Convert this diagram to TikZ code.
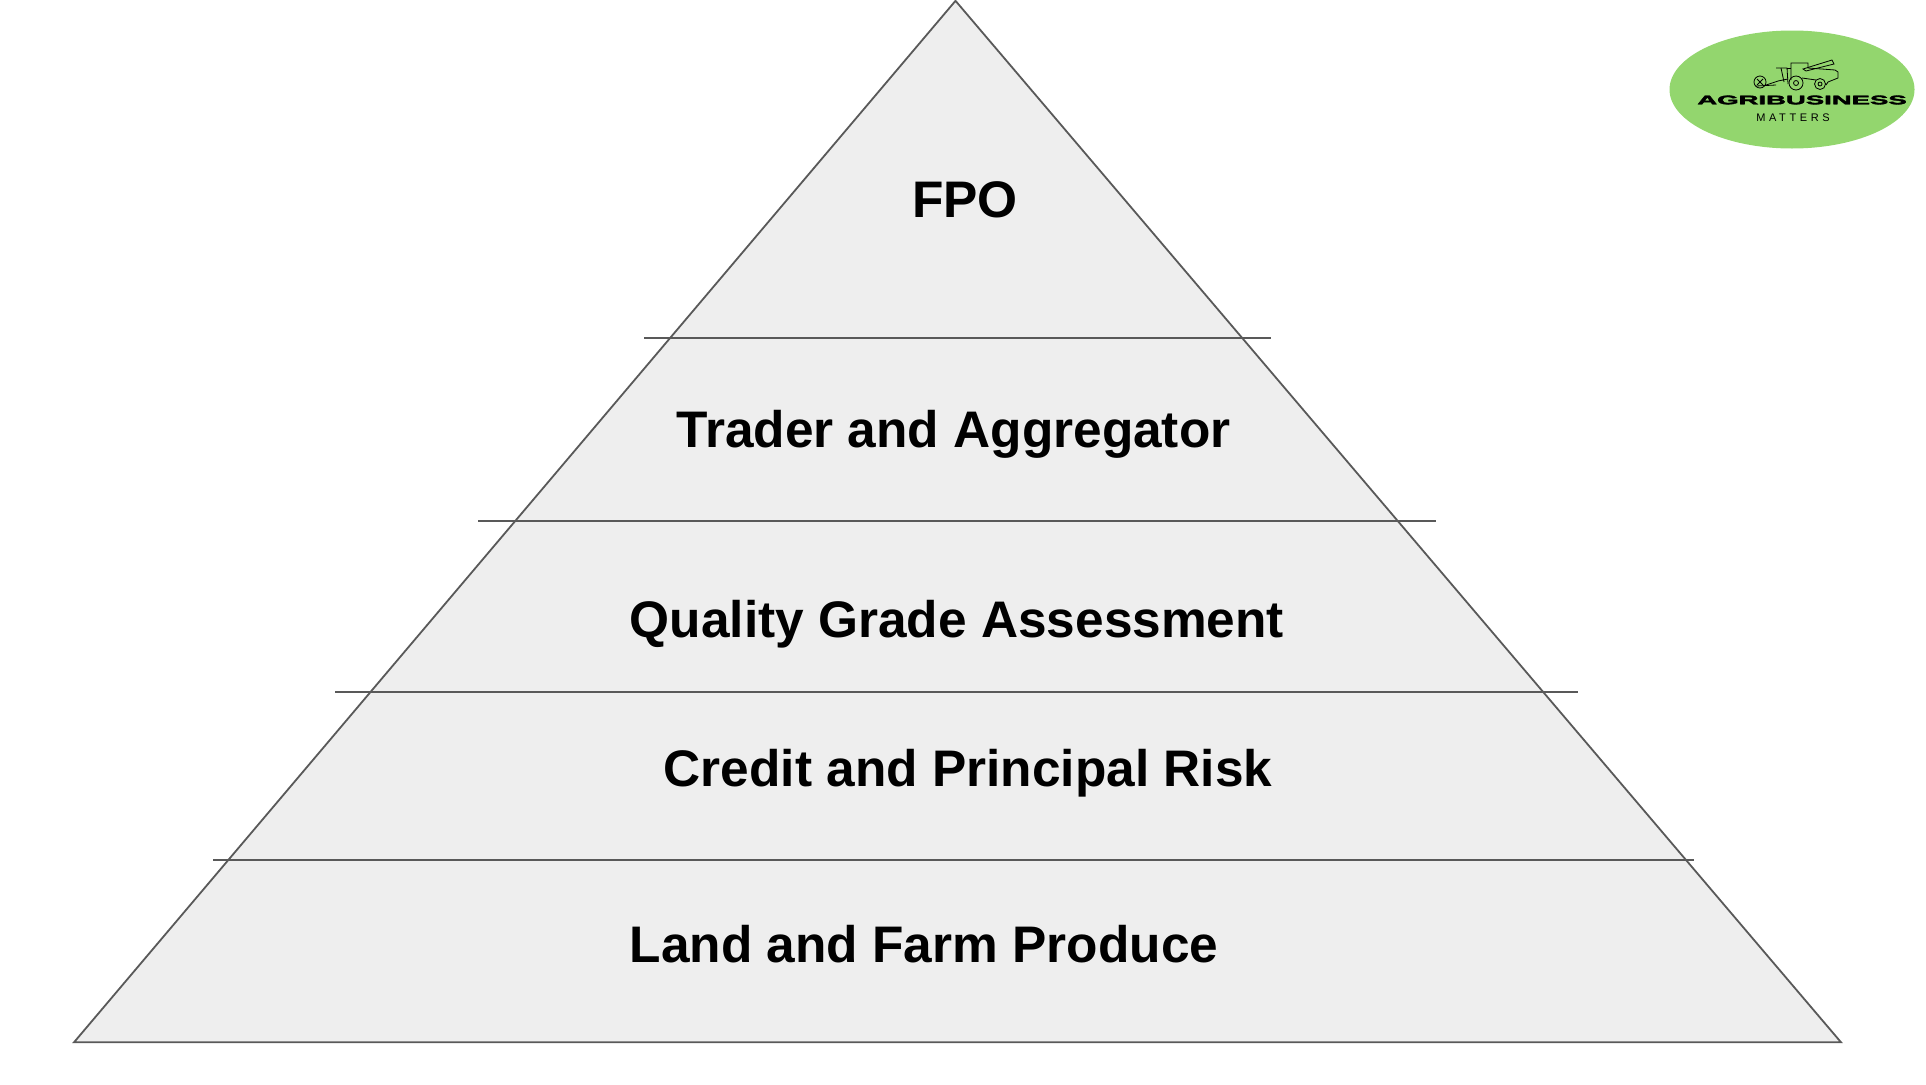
\documentclass[tikz,border=0pt]{standalone}
\usepackage{fontspec}
\setmainfont{Liberation Sans}
\newfontfamily\agrifont[FakeBold=2.5]{Liberation Sans Bold}
\newfontfamily\mattersfont[LetterSpace=33]{Liberation Sans}
\usetikzlibrary{
    positioning,
    shapes.geometric,
    calc
}
\definecolor{tierfill}{RGB}{238,238,238}
\definecolor{tierline}{RGB}{89,89,89}
\definecolor{logogreen}{RGB}{147,214,110}

\begin{document}
\begin{tikzpicture}[
    x=1pt,
    y=-1pt,
    tierlabel/.style={
        font=\fontsize{51.4}{60}\selectfont\bfseries,
        text=black,
        anchor=base,
        inner sep=0pt
    },
    divider/.style={
        draw=tierline,
        line width=1.8pt
    },
    pyramid/.style={
        draw=tierline,
        line width=1.8pt,
        fill=tierfill,
        line join=miter
    },
    machine/.style={
        draw=black,
        line width=0.8pt,
        fill=none
    }
]

\useasboundingbox (0,0) rectangle (1926,1084);

% outline corners
\coordinate (apex) at (955.5,0.8);
\coordinate (baseleft) at (74,1042.3);
\coordinate (baseright) at (1841,1042.3);

\draw[pyramid] (apex) -- (baseright) -- (baseleft) -- cycle;

% dividers, top to bottom
\coordinate (divaleft) at (644,338);
\coordinate (divaright) at (1271,338);
\coordinate (divbleft) at (478,521);
\coordinate (divbright) at (1435.5,521);
\coordinate (divcleft) at (335,692);
\coordinate (divcright) at (1578,692);
\coordinate (divdleft) at (213,860);
\coordinate (divdright) at (1694,860);

\draw[divider] (divaleft) -- (divaright);
\draw[divider] (divbleft) -- (divbright);
\draw[divider] (divcleft) -- (divcright);
\draw[divider] (divdleft) -- (divdright);

\node[tierlabel] (fpo) at (965,217) {FPO};
\node[tierlabel] (trader) at (953.5,447) {Trader and Aggregator};
\node[tierlabel] (quality) at (957,637) {Quality Grade Assessment};
\node[tierlabel] (credit) at (968,786) {Credit and Principal Risk};
\node[tierlabel] (land) at (924,962) {Land and Farm Produce};

% logo
\node[
    ellipse,
    fill=logogreen,
    minimum width=245pt,
    minimum height=118pt,
    inner sep=0pt
] (logo) at (1792,89.5) {};

\draw[machine] (1791,80) -- (1791,63) -- (1808,63) -- (1808,68) -- (1835,70) -- (1838,72) -- (1838,78) -- (1828,82) -- (1826,85);
\draw[machine] (1803,69) -- (1832,60) -- (1834,64) -- (1806,71) -- cycle;
\draw[machine] (1776,68) -- (1787,68) -- (1788,84);
\draw[machine] (1781,68) -- (1784,82);
\draw[machine] (1787,68) -- (1791,68);
\draw[machine] (1766,85) -- (1778,81) -- (1788,79);
\draw[machine] (1756,86) -- (1776,85);
\draw[machine] (1802,78) -- (1816,80);
\draw[machine] (1796,83) circle (7);
\draw[machine] (1796,83) circle (2.5);
\draw[machine] (1820,84) circle (5.5);
\draw[machine] (1820,84) circle (2);
\draw[machine] (1760,82) circle (6);
\draw[machine] (1757,79) -- (1763,85);
\draw[machine] (1757,85) -- (1763,79);

\node[
    font=\fontsize{12.5}{14}\selectfont\agrifont,
    xscale=2.2,
    inner sep=0pt
] (agri) at (1802,100) {AGRIBUSINESS};
\node[
    font=\fontsize{11}{12}\selectfont\mattersfont,
    inner sep=0pt
] (matters) at (1793,118) {MATTERS};

\end{tikzpicture}
\end{document}
